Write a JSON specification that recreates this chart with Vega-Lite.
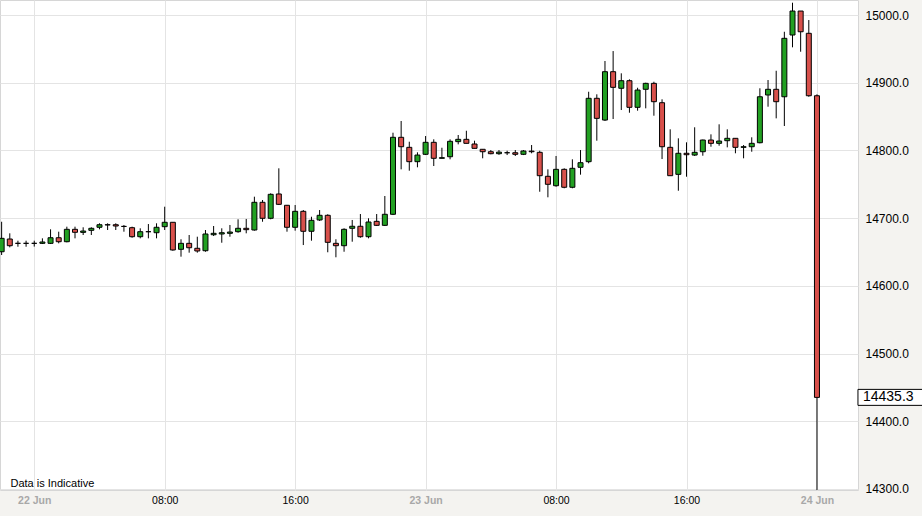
{
  "$schema": "https://vega.github.io/schema/vega-lite/v6.json",
  "width": 858,
  "height": 490,
  "autosize": {"type": "none"},
  "padding": {"left": 0, "top": 0, "right": 64, "bottom": 26},
  "background": "#f4f3f0",
  "config": {
    "font": "Liberation Sans",
    "view": {"fill": "white", "stroke": "#d6d6d6"}
  },
  "data": {
    "values": [
      {"time": "2016-06-21T22:00", "open": 14650.4, "high": 14694.7, "low": 14645.6, "close": 14670.2},
      {"time": "2016-06-21T22:30", "open": 14669.2, "high": 14677.6, "low": 14656.9, "close": 14659.3},
      {"time": "2016-06-21T23:00", "open": 14662.8, "high": 14666.7, "low": 14657.8, "close": 14662.8},
      {"time": "2016-06-21T23:30", "open": 14662.8, "high": 14666.7, "low": 14657.8, "close": 14662.8},
      {"time": "2016-06-22T00:00", "open": 14662.8, "high": 14666.7, "low": 14658.0, "close": 14662.8},
      {"time": "2016-06-22T00:30", "open": 14662.8, "high": 14670.2, "low": 14661.8, "close": 14664.8},
      {"time": "2016-06-22T01:00", "open": 14662.8, "high": 14683.5, "low": 14661.8, "close": 14671.1},
      {"time": "2016-06-22T01:30", "open": 14671.1, "high": 14680.0, "low": 14662.8, "close": 14665.2},
      {"time": "2016-06-22T02:00", "open": 14665.2, "high": 14687.4, "low": 14664.3, "close": 14683.5},
      {"time": "2016-06-22T02:30", "open": 14683.5, "high": 14687.4, "low": 14670.2, "close": 14679.1},
      {"time": "2016-06-22T03:00", "open": 14679.0, "high": 14686.5, "low": 14675.1, "close": 14681.0},
      {"time": "2016-06-22T03:30", "open": 14682.0, "high": 14686.5, "low": 14675.1, "close": 14685.0},
      {"time": "2016-06-22T04:00", "open": 14686.5, "high": 14692.4, "low": 14683.5, "close": 14690.3},
      {"time": "2016-06-22T04:30", "open": 14690.3, "high": 14692.4, "low": 14682.5, "close": 14690.0},
      {"time": "2016-06-22T05:00", "open": 14690.3, "high": 14692.4, "low": 14682.5, "close": 14688.4},
      {"time": "2016-06-22T05:30", "open": 14687.8, "high": 14689.9, "low": 14680.0, "close": 14687.8},
      {"time": "2016-06-22T06:00", "open": 14685.9, "high": 14687.4, "low": 14671.1, "close": 14672.6},
      {"time": "2016-06-22T06:30", "open": 14672.6, "high": 14685.0, "low": 14670.2, "close": 14680.0},
      {"time": "2016-06-22T07:00", "open": 14680.0, "high": 14691.3, "low": 14670.2, "close": 14680.0},
      {"time": "2016-06-22T07:30", "open": 14678.5, "high": 14692.4, "low": 14670.2, "close": 14686.5},
      {"time": "2016-06-22T08:00", "open": 14687.4, "high": 14716.9, "low": 14682.5, "close": 14693.9},
      {"time": "2016-06-22T08:30", "open": 14693.9, "high": 14693.9, "low": 14651.9, "close": 14653.0},
      {"time": "2016-06-22T09:00", "open": 14654.0, "high": 14668.8, "low": 14643.1, "close": 14662.8},
      {"time": "2016-06-22T09:30", "open": 14662.8, "high": 14675.1, "low": 14649.0, "close": 14656.3},
      {"time": "2016-06-22T10:00", "open": 14655.5, "high": 14672.6, "low": 14649.0, "close": 14651.5},
      {"time": "2016-06-22T10:30", "open": 14651.9, "high": 14682.5, "low": 14650.4, "close": 14676.6},
      {"time": "2016-06-22T11:00", "open": 14675.5, "high": 14688.4, "low": 14673.6, "close": 14677.6},
      {"time": "2016-06-22T11:30", "open": 14676.6, "high": 14685.0, "low": 14663.7, "close": 14678.5},
      {"time": "2016-06-22T12:00", "open": 14677.6, "high": 14689.9, "low": 14672.6, "close": 14679.5},
      {"time": "2016-06-22T12:30", "open": 14680.0, "high": 14698.3, "low": 14678.5, "close": 14685.0},
      {"time": "2016-06-22T13:00", "open": 14685.0, "high": 14698.8, "low": 14677.6, "close": 14683.0},
      {"time": "2016-06-22T13:30", "open": 14682.5, "high": 14731.7, "low": 14681.5, "close": 14723.4},
      {"time": "2016-06-22T14:00", "open": 14723.4, "high": 14726.8, "low": 14694.7, "close": 14699.8},
      {"time": "2016-06-22T14:30", "open": 14699.8, "high": 14736.7, "low": 14698.3, "close": 14735.2},
      {"time": "2016-06-22T15:00", "open": 14735.7, "high": 14773.6, "low": 14719.4, "close": 14720.4},
      {"time": "2016-06-22T15:30", "open": 14719.0, "high": 14719.5, "low": 14680.0, "close": 14686.5},
      {"time": "2016-06-22T16:00", "open": 14686.5, "high": 14719.4, "low": 14681.5, "close": 14710.1},
      {"time": "2016-06-22T16:30", "open": 14710.1, "high": 14712.0, "low": 14660.3, "close": 14680.6},
      {"time": "2016-06-22T17:00", "open": 14680.6, "high": 14702.1, "low": 14666.7, "close": 14696.8},
      {"time": "2016-06-22T17:30", "open": 14697.3, "high": 14712.0, "low": 14695.8, "close": 14704.2},
      {"time": "2016-06-22T18:00", "open": 14704.2, "high": 14705.7, "low": 14649.6, "close": 14664.3},
      {"time": "2016-06-22T18:30", "open": 14662.8, "high": 14668.8, "low": 14642.2, "close": 14659.3},
      {"time": "2016-06-22T19:00", "open": 14659.3, "high": 14685.0, "low": 14650.4, "close": 14683.5},
      {"time": "2016-06-22T19:30", "open": 14685.0, "high": 14697.3, "low": 14665.2, "close": 14688.0},
      {"time": "2016-06-22T20:00", "open": 14688.0, "high": 14706.1, "low": 14671.1, "close": 14672.6},
      {"time": "2016-06-22T20:30", "open": 14672.6, "high": 14699.8, "low": 14670.2, "close": 14694.3},
      {"time": "2016-06-22T21:00", "open": 14695.3, "high": 14706.1, "low": 14688.4, "close": 14689.4},
      {"time": "2016-06-22T21:30", "open": 14689.4, "high": 14732.7, "low": 14688.4, "close": 14705.7},
      {"time": "2016-06-22T22:00", "open": 14705.7, "high": 14826.2, "low": 14704.6, "close": 14819.4},
      {"time": "2016-06-22T22:30", "open": 14819.4, "high": 14843.5, "low": 14772.1, "close": 14805.5},
      {"time": "2016-06-22T23:00", "open": 14804.6, "high": 14812.9, "low": 14770.1, "close": 14783.4},
      {"time": "2016-06-22T23:30", "open": 14783.4, "high": 14797.2, "low": 14775.1, "close": 14793.2},
      {"time": "2016-06-23T00:00", "open": 14794.3, "high": 14821.3, "low": 14793.2, "close": 14812.0},
      {"time": "2016-06-23T00:30", "open": 14812.0, "high": 14816.4, "low": 14777.0, "close": 14788.4},
      {"time": "2016-06-23T01:00", "open": 14788.4, "high": 14804.0, "low": 14788.4, "close": 14789.3},
      {"time": "2016-06-23T01:30", "open": 14790.7, "high": 14816.4, "low": 14786.9, "close": 14813.5},
      {"time": "2016-06-23T02:00", "open": 14813.0, "high": 14822.8, "low": 14809.0, "close": 14816.4},
      {"time": "2016-06-23T02:30", "open": 14816.4, "high": 14829.1, "low": 14810.5, "close": 14810.5},
      {"time": "2016-06-23T03:00", "open": 14809.5, "high": 14814.4, "low": 14803.1, "close": 14803.1},
      {"time": "2016-06-23T03:30", "open": 14801.7, "high": 14801.7, "low": 14788.4, "close": 14798.1},
      {"time": "2016-06-23T04:00", "open": 14798.1, "high": 14800.6, "low": 14794.3, "close": 14795.2},
      {"time": "2016-06-23T04:30", "open": 14795.2, "high": 14800.6, "low": 14793.5, "close": 14797.5},
      {"time": "2016-06-23T05:00", "open": 14796.6, "high": 14799.6, "low": 14793.2, "close": 14796.6},
      {"time": "2016-06-23T05:30", "open": 14796.6, "high": 14800.6, "low": 14791.8, "close": 14794.3},
      {"time": "2016-06-23T06:00", "open": 14794.3, "high": 14800.6, "low": 14793.2, "close": 14799.2},
      {"time": "2016-06-23T06:30", "open": 14799.0, "high": 14808.0, "low": 14795.8, "close": 14798.1},
      {"time": "2016-06-23T07:00", "open": 14797.2, "high": 14799.6, "low": 14739.0, "close": 14762.7},
      {"time": "2016-06-23T07:30", "open": 14761.8, "high": 14772.1, "low": 14730.8, "close": 14750.0},
      {"time": "2016-06-23T08:00", "open": 14747.9, "high": 14791.8, "low": 14746.4, "close": 14772.1},
      {"time": "2016-06-23T08:30", "open": 14772.1, "high": 14773.6, "low": 14744.1, "close": 14745.6},
      {"time": "2016-06-23T09:00", "open": 14745.6, "high": 14786.9, "low": 14744.1, "close": 14773.6},
      {"time": "2016-06-23T09:30", "open": 14775.1, "high": 14800.6, "low": 14764.2, "close": 14781.9},
      {"time": "2016-06-23T10:00", "open": 14783.4, "high": 14886.7, "low": 14781.0, "close": 14877.0},
      {"time": "2016-06-23T10:30", "open": 14877.0, "high": 14882.9, "low": 14814.4, "close": 14847.4},
      {"time": "2016-06-23T11:00", "open": 14844.9, "high": 14932.1, "low": 14843.5, "close": 14916.3},
      {"time": "2016-06-23T11:30", "open": 14916.3, "high": 14946.8, "low": 14846.4, "close": 14893.2},
      {"time": "2016-06-23T12:00", "open": 14891.8, "high": 14913.9, "low": 14859.7, "close": 14903.0},
      {"time": "2016-06-23T12:30", "open": 14903.0, "high": 14905.0, "low": 14855.7, "close": 14863.7},
      {"time": "2016-06-23T13:00", "open": 14863.7, "high": 14892.6, "low": 14858.7, "close": 14889.2},
      {"time": "2016-06-23T13:30", "open": 14890.3, "high": 14900.0, "low": 14862.2, "close": 14899.1},
      {"time": "2016-06-23T14:00", "open": 14899.1, "high": 14901.5, "low": 14851.3, "close": 14872.0},
      {"time": "2016-06-23T14:30", "open": 14870.5, "high": 14875.5, "low": 14787.3, "close": 14805.5},
      {"time": "2016-06-23T15:00", "open": 14804.6, "high": 14831.2, "low": 14762.7, "close": 14762.7},
      {"time": "2016-06-23T15:30", "open": 14764.7, "high": 14817.9, "low": 14740.5, "close": 14795.8},
      {"time": "2016-06-23T16:00", "open": 14795.8, "high": 14812.0, "low": 14761.2, "close": 14793.7},
      {"time": "2016-06-23T16:30", "open": 14793.2, "high": 14834.2, "low": 14791.8, "close": 14797.2},
      {"time": "2016-06-23T17:00", "open": 14798.1, "high": 14816.0, "low": 14792.2, "close": 14815.4},
      {"time": "2016-06-23T17:30", "open": 14815.4, "high": 14823.8, "low": 14805.5, "close": 14810.5},
      {"time": "2016-06-23T18:00", "open": 14810.5, "high": 14838.6, "low": 14807.0, "close": 14813.9},
      {"time": "2016-06-23T18:30", "open": 14814.4, "high": 14831.2, "low": 14804.6, "close": 14817.9},
      {"time": "2016-06-23T19:00", "open": 14817.9, "high": 14817.9, "low": 14795.8, "close": 14804.6},
      {"time": "2016-06-23T19:30", "open": 14804.6, "high": 14808.0, "low": 14788.4, "close": 14805.5},
      {"time": "2016-06-23T20:00", "open": 14805.5, "high": 14819.4, "low": 14798.1, "close": 14810.5},
      {"time": "2016-06-23T20:30", "open": 14811.4, "high": 14891.8, "low": 14810.5, "close": 14879.3},
      {"time": "2016-06-23T21:00", "open": 14881.9, "high": 14904.0, "low": 14864.6, "close": 14890.3},
      {"time": "2016-06-23T21:30", "open": 14890.3, "high": 14917.7, "low": 14847.4, "close": 14872.0},
      {"time": "2016-06-23T22:00", "open": 14879.3, "high": 14975.3, "low": 14836.1, "close": 14965.6},
      {"time": "2016-06-23T22:30", "open": 14970.5, "high": 15018.2, "low": 14952.3, "close": 15005.9},
      {"time": "2016-06-23T23:00", "open": 15005.9, "high": 15005.9, "low": 14945.8, "close": 14975.3},
      {"time": "2016-06-23T23:30", "open": 14973.0, "high": 14992.6, "low": 14879.3, "close": 14880.8},
      {"time": "2016-06-24T00:00", "open": 14880.8, "high": 14882.9, "low": 14250.0, "close": 14435.3}
    ]
  },
  "encoding": {
    "x": {
      "field": "time",
      "type": "temporal",
      "scale": {
        "domain": [
          {"year": 2016, "month": 6, "date": 21, "hours": 21, "minutes": 54},
          {"year": 2016, "month": 6, "date": 24, "hours": 2, "minutes": 31}
        ],
        "padding": 0
      },
      "axis": {
        "values": [
          {"year": 2016, "month": 6, "date": 22, "hours": 0},
          {"year": 2016, "month": 6, "date": 22, "hours": 8},
          {"year": 2016, "month": 6, "date": 22, "hours": 16},
          {"year": 2016, "month": 6, "date": 23, "hours": 0},
          {"year": 2016, "month": 6, "date": 23, "hours": 8},
          {"year": 2016, "month": 6, "date": 23, "hours": 16},
          {"year": 2016, "month": 6, "date": 24, "hours": 0}
        ],
        "labelExpr": "hours(datum.value) == 0 ? timeFormat(datum.value, '%d %b') : timeFormat(datum.value, '%H:%M')",
        "labelColor": {"condition": {"test": "hours(datum.value) == 0", "value": "#a8a8a8"}, "value": "#000000"},
        "labelFontWeight": {"condition": {"test": "hours(datum.value) == 0", "value": "bold"}, "value": "normal"},
        "labelFontSize": 10.5,
        "labelPadding": 5,
        "labelOverlap": false,
        "labelFlush": false,
        "ticks": false,
        "domain": false,
        "grid": true,
        "gridColor": "#e4e4e4",
        "title": "Data is Indicative",
        "titleX": 10,
        "titleY": -4,
        "titleAlign": "left",
        "titleBaseline": "alphabetic",
        "titleFontWeight": "normal",
        "titleFontSize": 11,
        "titleColor": "#000000"
      }
    }
  },
  "layer": [
    {
      "mark": {"type": "rule", "color": "#000000", "strokeWidth": 1, "clip": true},
      "encoding": {
        "y": {
          "field": "low",
          "type": "quantitative",
          "scale": {"domain": [14298.5, 15022.2], "nice": false, "zero": false, "padding": 0},
          "axis": {
            "orient": "right",
            "values": [14300, 14400, 14500, 14600, 14700, 14800, 14900, 15000],
            "format": ".1f",
            "labelFontSize": 12,
            "labelColor": "#000000",
            "labelPadding": 7,
            "ticks": false,
            "domain": false,
            "grid": true,
            "gridColor": "#e4e4e4",
            "title": null
          }
        },
        "y2": {"field": "high"}
      }
    },
    {
      "mark": {"type": "bar", "width": 5, "stroke": "#000000", "strokeWidth": 1, "clip": true},
      "encoding": {
        "y": {"field": "open", "type": "quantitative"},
        "y2": {"field": "close"},
        "color": {
          "condition": {"test": "datum.close >= datum.open", "value": "#22a022"},
          "value": "#d8504b"
        }
      }
    },
    {
      "transform": [{"filter": "date(datum.time) == 24"}],
      "mark": {
        "type": "point",
        "shape": "M-1,-0.2424H1V0.2424H-1Z",
        "size": 4356,
        "filled": true,
        "fill": "#ffffff",
        "stroke": "#000000",
        "strokeWidth": 1,
        "opacity": 1,
        "xOffset": 74
      },
      "encoding": {
        "y": {"field": "close", "type": "quantitative"}
      }
    },
    {
      "transform": [{"filter": "date(datum.time) == 24"}],
      "mark": {
        "type": "text",
        "dx": 46,
        "align": "left",
        "baseline": "middle",
        "fontSize": 14,
        "color": "#000000"
      },
      "encoding": {
        "y": {"field": "close", "type": "quantitative"},
        "text": {"field": "close", "type": "quantitative", "format": ".1f"}
      }
    }
  ]
}
